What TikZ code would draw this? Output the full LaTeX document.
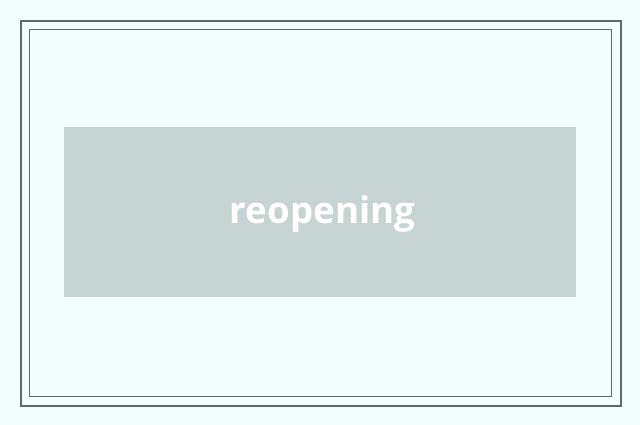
\documentclass[tikz,border=0pt]{standalone}
\usepackage{fontspec}
\setmainfont{Open Sans}
\definecolor{bgc}{HTML}{F2FEFE}
\definecolor{framec}{HTML}{5A6A6A}
\definecolor{boxc}{HTML}{C7D4D4}
\tikzset{
  outerframe/.style={draw=framec, line width=1.6pt},
  innerframe/.style={draw=framec, line width=0.8pt},
  banner/.style={fill=boxc, draw=none},
  bannertext/.style={text=white, font=\bfseries\fontsize{27.5}{32}\selectfont, inner sep=0pt}
}
\begin{document}
\begin{tikzpicture}[x=0.75pt,y=-0.75pt]
\useasboundingbox[fill=bgc] (0,0) rectangle (640,425);
\draw[outerframe] (21,21) rectangle (621,406);
\draw[innerframe] (29.5,29.5) rectangle (611.5,396.5);
\node[banner, minimum width=512*0.75pt, minimum height=170*0.75pt, inner sep=0pt] (box) at (320,212) {};
\node[bannertext, anchor=base] (label) at (322.5,223.5) {reopening};
\end{tikzpicture}
\end{document}
